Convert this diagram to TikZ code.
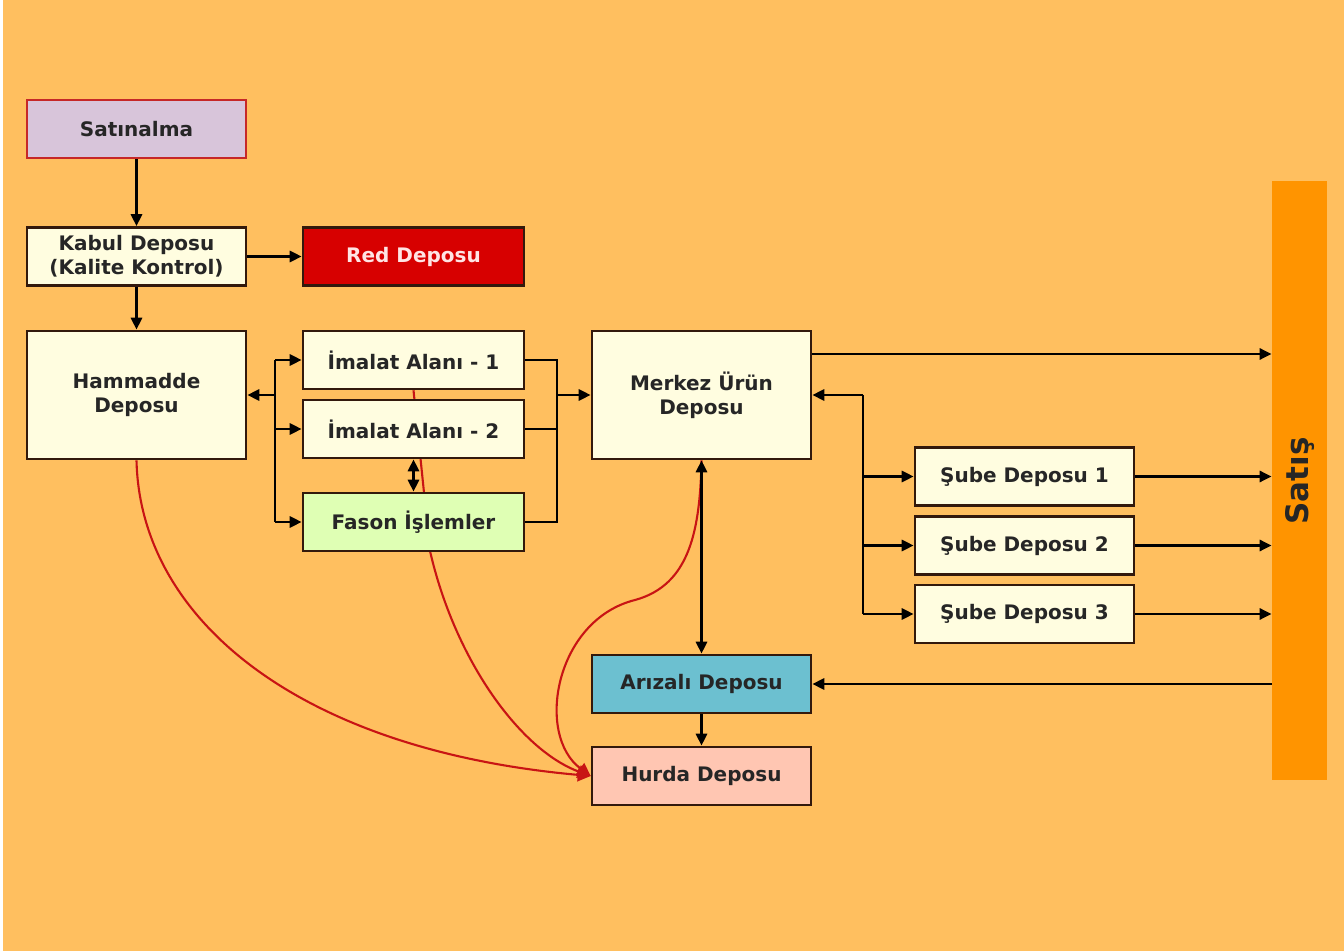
\documentclass[tikz,border=0pt]{standalone}
\usepackage{fontspec}
\setmainfont{DejaVu Sans}
\usetikzlibrary{arrows.meta,calc}
\definecolor{bgc}{HTML}{FFBF5F}
\definecolor{barc}{HTML}{FF9400}
\definecolor{cream}{HTML}{FFFDE0}
\definecolor{bord}{HTML}{33190C}
\definecolor{txt}{HTML}{262626}
\definecolor{lav}{HTML}{D8C5DA}
\definecolor{lavb}{HTML}{C62828}
\definecolor{redf}{HTML}{D70000}
\definecolor{redt}{HTML}{FFE4E4}
\definecolor{grn}{HTML}{DFFFB4}
\definecolor{teal}{HTML}{6CC0D0}
\definecolor{pinkf}{HTML}{FFC6B2}
\definecolor{curve}{HTML}{C81414}
\pgfdeclarelayer{bglayer}
\pgfdeclarelayer{curvelayer}
\pgfsetlayers{bglayer,curvelayer,main}
\begin{document}
\begin{tikzpicture}[x=0.5pt,y=-0.5pt,
  box/.style={draw=bord,line width=1.3pt,fill=cream,text=txt,
    minimum width=109.5pt,minimum height=29pt,inner sep=0pt,
    align=center,font=\bfseries\fontsize{10}{12}\selectfont},
  tall/.style={minimum height=64pt},
  wide/.style={minimum width=110.5pt},
  conn/.style={draw=black,line width=1.45pt},
  arr/.style={conn,-{Triangle[length=6pt,width=5.5pt]}},
  arrtwo/.style={conn,{Triangle[length=6pt,width=5.5pt]}-{Triangle[length=6pt,width=5.5pt]}},
  redc/.style={draw=curve,line width=1.05pt,-{Triangle[length=6.5pt,width=6.5pt]}}]
\begin{pgfonlayer}{bglayer}
\fill[bgc] (0,0) rectangle (1344,951);
\fill[white] (0,0) rectangle (3,951);
\end{pgfonlayer}
\useasboundingbox (0,0) rectangle (1344,951);

% nodes
\node[box,fill=lav,draw=lavb] (sat) at (136.5,129) {Satınalma};
\node[box] (kab) at (136.5,256.5) {Kabul Deposu\\(Kalite Kontrol)};
\node[box,wide,fill=redf,text=redt] (red) at (413.5,256.5) {Red Deposu};
\node[box,tall] (ham) at (136.5,395) {Hammadde\\Deposu};
\node[box,wide] (im1) at (413.5,360) {İmalat Alanı - 1};
\node[box,wide] (im2) at (413.5,429) {İmalat Alanı - 2};
\node[box,wide,fill=grn] (fas) at (413.5,522) {Fason İşlemler};
\node[box,tall] (mer) at (701.5,395) {Merkez Ürün\\Deposu};
\node[box] (sb1) at (1024.5,476.5) {Şube Deposu 1};
\node[box] (sb2) at (1024.5,545.5) {Şube Deposu 2};
\node[box] (sb3) at (1024.5,614) {Şube Deposu 3};
\node[box,fill=teal] (ari) at (701.5,684) {Arızalı Deposu};
\node[box,fill=pinkf] (hur) at (701.5,776) {Hurda Deposu};
\node[fill=barc,minimum width=27.5pt,minimum height=299.5pt,inner sep=0pt] (bar) at (1299.5,480.5) {};
\node[rotate=90,text=txt,font=\bfseries\fontsize{15.5}{18}\selectfont] (satis) at (1300,481) {Satış};

% red curves
\begin{pgfonlayer}{curvelayer}
\draw[redc] (ham.south) .. controls (140,620) and (300,750) .. (hur.west);
\draw[redc] (im1.south) -- (430,551) .. controls (455,660) and (520,750) .. (hur.west);
\draw[redc] (mer.south) .. controls (700,530) and (690,585) .. (635,600)
  .. controls (555,620) and (535,735) .. (hur.west);
\end{pgfonlayer}

% connectors
\draw[arr] (sat) -- (kab);
\draw[arr] (kab) -- (red);
\draw[arr] (kab) -- (ham);

\coordinate (lb) at (275,0);
\draw[conn] (lb|-im1.west) -- (lb|-fas.west);
\draw[arr] (lb|-ham.east) -- (ham.east);
\draw[arr] (lb|-im1.west) -- (im1.west);
\draw[arr] (lb|-im2.west) -- (im2.west);
\draw[arr] (lb|-fas.west) -- (fas.west);

\coordinate (rb) at (557,0);
\draw[conn] (im1.east) -- (rb|-im1.east) -- (rb|-fas.east) -- (fas.east);
\draw[conn] (im2.east) -- (rb|-im2.east);
\draw[arr] (rb|-mer.west) -- (mer.west);

\draw[arrtwo] (im2.south) -- (fas.north);

\coordinate (mtop) at ($(mer.east)+(0,-41)$);
\draw[arr] (mtop) -- (mtop-|bar.west);

\coordinate (sbx) at (863,0);
\draw[conn] (sbx|-mer.east) -- (sbx|-sb3.west);
\draw[arr] (sbx|-mer.east) -- (mer.east);
\draw[arr] (sbx|-sb1.west) -- (sb1.west);
\draw[arr] (sbx|-sb2.west) -- (sb2.west);
\draw[arr] (sbx|-sb3.west) -- (sb3.west);
\draw[arr] (sb1.east) -- (sb1.east-|bar.west);
\draw[arr] (sb2.east) -- (sb2.east-|bar.west);
\draw[arr] (sb3.east) -- (sb3.east-|bar.west);

\draw[arrtwo] (mer.south) -- (ari.north);
\draw[arr] (bar.west|-ari.east) -- (ari.east);
\draw[arr] (ari) -- (hur);
\end{tikzpicture}
\end{document}
